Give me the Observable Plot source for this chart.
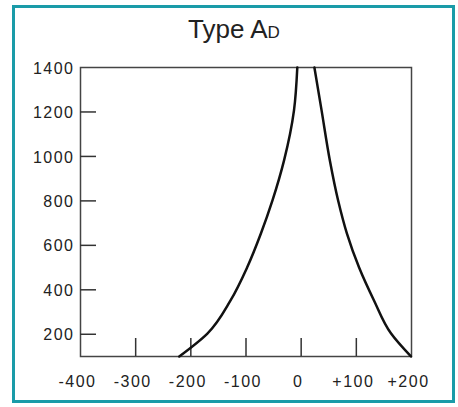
<!DOCTYPE html>
<html>
<head>
<meta charset="utf-8">
<script src="https://cdn.jsdelivr.net/npm/d3@7"></script>
<script src="https://cdn.jsdelivr.net/npm/@observablehq/plot@0.6"></script>
<style>
  html, body { margin: 0; padding: 0; background: #fff; }
  #wrap { position: relative; width: 458px; height: 407px; overflow: hidden; }
  #border { position: absolute; left: 12px; top: 5px; width: 443px; height: 398px; box-sizing: border-box; border: 3px solid #1a9ba8; }
  #title { position: absolute; left: 188px; top: 16px; font-family: "Liberation Sans", Arial, sans-serif; font-size: 26px; line-height: 1; color: #222; white-space: nowrap; }
  #title .sc { font-size: 17px; }
  #chart { position: absolute; left: 0; top: 0; }
</style>
</head>
<body>
<div id="wrap">
  <div id="border"></div>
  <div id="title">Type A<span class="sc">D</span></div>
  <div id="chart"></div>
</div>
<script>
// Tick values and labels
const xTicks = [-400, -300, -200, -100, 0, 100, 200];
const xTickLabels = ["-400", "-300", "-200", "-100", "0", "+100", "+200"];
const xTickMarks = [-300, -200, -100, 0, 100];
const yTicks = [200, 400, 600, 800, 1000, 1200, 1400];
const yTickLabels = ["200", "400", "600", "800", "1000", "1200", "1400"];
const yTickMarks = [200, 400, 600, 800, 1000, 1200];

// Left branch of the curve
const leftX = [-221, -170, -128, -98, -73, -52, -31, -13, -7];
const leftY = [100, 203, 352, 500, 653, 802, 982, 1207, 1400];
// Right branch of the curve
const rightX = [24, 37, 52, 67, 83, 105, 132, 163, 199];
const rightY = [1400, 1207, 982, 802, 653, 500, 352, 203, 100];

const left = leftX.map((x, i) => ({x, y: leftY[i]}));
const right = rightX.map((x, i) => ({x, y: rightY[i]}));

const chart = Plot.plot({
  width: 458,
  height: 407,
  marginLeft: 80,
  marginRight: 47,
  marginTop: 67,
  marginBottom: 51,
  style: {background: "transparent", fontFamily: "Liberation Sans, Arial, sans-serif", fontSize: "16px", color: "#222", letterSpacing: "1.5px"},
  x: {domain: [-400, 200]},
  y: {domain: [100, 1400]},
  marks: [
    Plot.frame({stroke: "#444", strokeWidth: 1.5}),
    Plot.ruleX(xTickMarks, {x: d => d, insetTop: 271, stroke: "#333", strokeWidth: 1.5}),
    Plot.ruleY(yTickMarks, {y: d => d, insetRight: 315, stroke: "#333", strokeWidth: 1.5}),
    Plot.axisX(xTicks, {tickSize: 0, tickPadding: 19, dx: -3, tickFormat: d => xTickLabels[xTicks.indexOf(d)], label: null, fontSize: 16}),
    Plot.axisY(yTicks, {tickSize: 0, tickPadding: 6, dy: 1, tickFormat: d => yTickLabels[yTicks.indexOf(d)], label: null, fontSize: 16}),
    Plot.line(left, {x: "x", y: "y", curve: "monotone-y", stroke: "#111", strokeWidth: 2.5}),
    Plot.line(right, {x: "x", y: "y", curve: "monotone-y", stroke: "#111", strokeWidth: 2.5})
  ]
});
document.getElementById("chart").appendChild(chart);
</script>
</body>
</html>
